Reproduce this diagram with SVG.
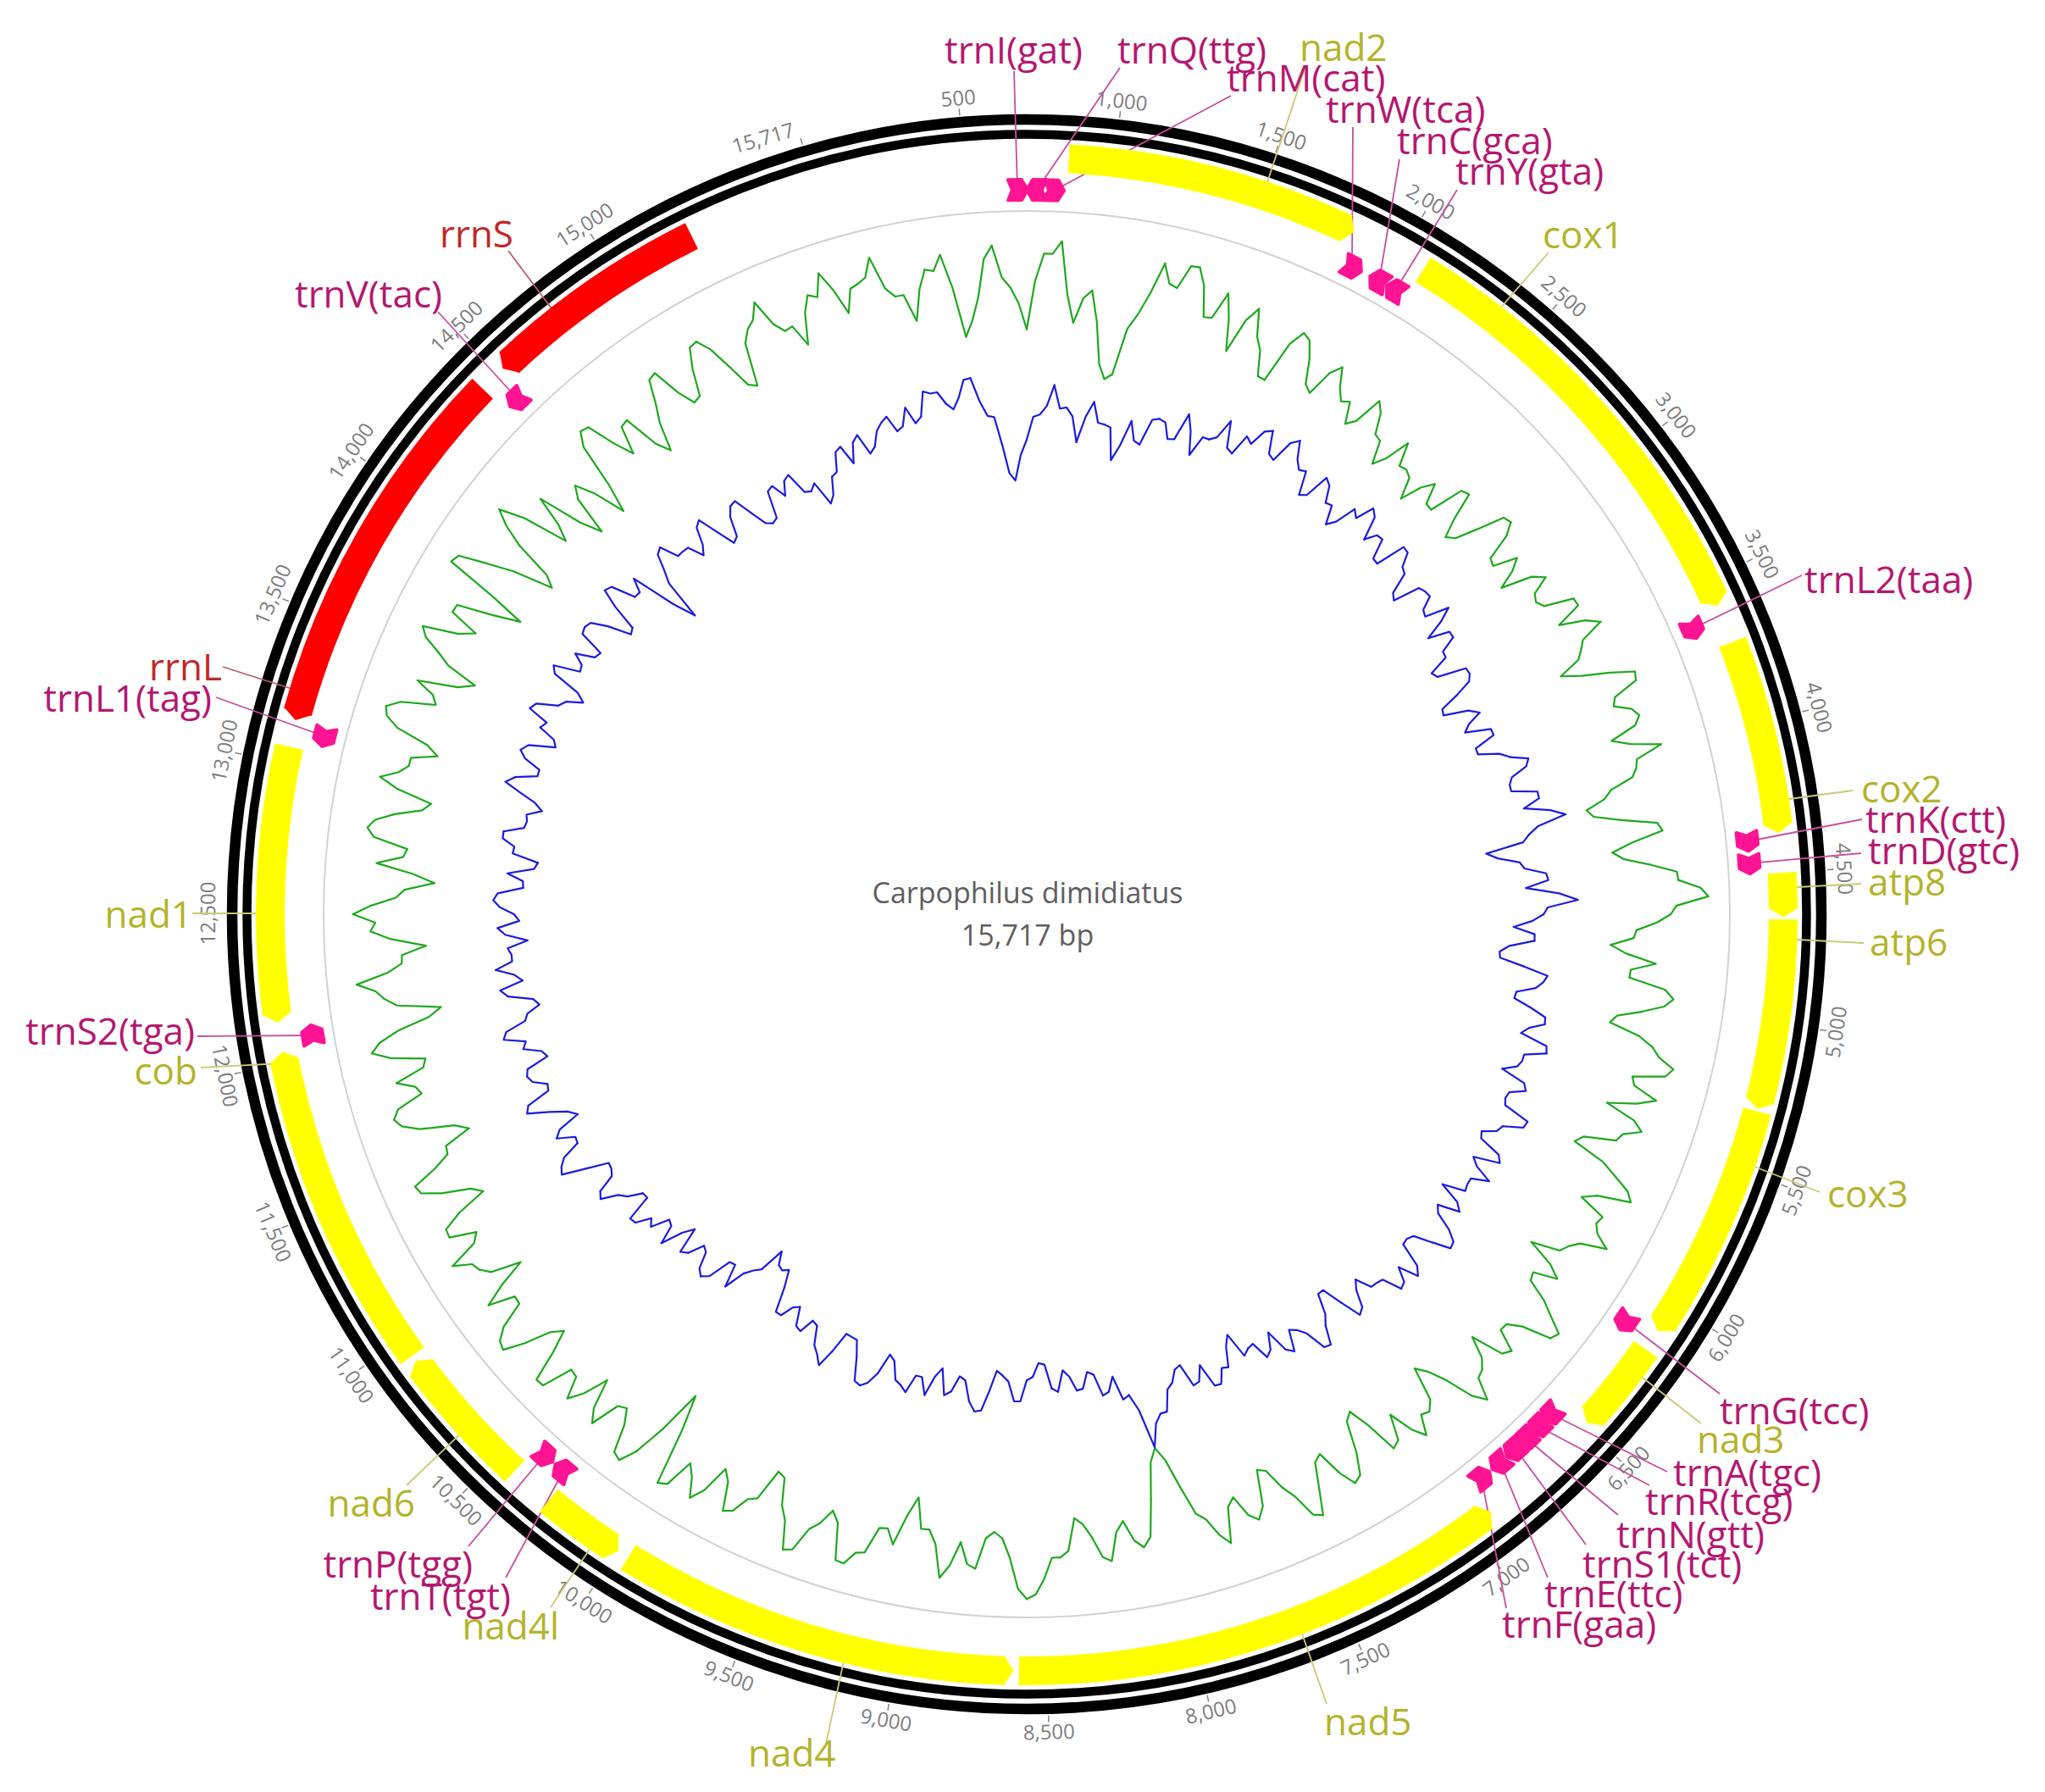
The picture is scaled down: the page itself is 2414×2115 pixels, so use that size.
<svg xmlns="http://www.w3.org/2000/svg" width="2414" height="2115" viewBox="0 0 2414 2115">
<style>
text{font-family:"Open Sans","Noto Sans","DejaVu Sans",sans-serif}
.lab{font-size:44px}
.t{fill:#b5176f}
.g{fill:#b3b32c}
.r{fill:#c0282a}
.e{text-anchor:end}
.tk text{font-size:24px;fill:#7d7d7d;text-anchor:middle}
.tk line{stroke:#8a8a8a;stroke-width:1.6}
.lt{stroke:#c8509a;stroke-width:1.8}
.lg{stroke:#c9c97a;stroke-width:1.8}
.lr{stroke:#b86070;stroke-width:1.8}
.arc{fill:none;stroke-width:34}
.yel{stroke:#ffff00}
.yf{fill:#ffff00}
.red{stroke:#ff0000}
.rf{fill:#ff0000}
.trna{fill:#ff1493;stroke:#ff1493;stroke-width:4;stroke-linejoin:round}
.gc path{fill:none;stroke:#1fa81f;stroke-width:2.2;stroke-linejoin:round;stroke-linecap:round}
.sk path{fill:none;stroke:#1c1ce0;stroke-width:2.2;stroke-linejoin:round;stroke-linecap:round}
</style>
<defs>
<polygon id="tf" points="-11,-867 5,-867 12,-855 5,-843 -11,-843 -6,-855"/>
<polygon id="tr" points="11,-867 -5,-867 -12,-855 -5,-843 11,-843 6,-855"/>
<polygon id="hf" points="-1,-910 10,-893 -1,-876"/>
<polygon id="hr" points="1,-910 -10,-893 1,-876"/>
</defs>
<rect width="2414" height="2115" fill="#fff"/>
<g id="rings" fill="none">
<circle cx="1212" cy="1079" r="938" stroke="#000" stroke-width="12.5"/>
<circle cx="1212" cy="1079" r="920.5" stroke="#000" stroke-width="10.5"/>
<circle cx="1212" cy="1079" r="830" stroke="#d2d2d2" stroke-width="2"/>
</g>
<g id="ticks" class="tk" transform="translate(1212 1079)">
<g transform="rotate(-16.25)"><line y1="-946" y2="-954"/><text x="-5" y="-966" dy="8" style="text-anchor:end">15,717</text></g>
<g transform="rotate(-4.8)"><line y1="-946" y2="-954"/><text y="-966" dy="8">500</text></g>
<g transform="rotate(6.655)"><line y1="-946" y2="-954"/><text y="-966" dy="8">1,000</text></g>
<g transform="rotate(18.11)"><line y1="-946" y2="-954"/><text y="-966" dy="8">1,500</text></g>
<g transform="rotate(29.56)"><line y1="-946" y2="-954"/><text y="-966" dy="8">2,000</text></g>
<g transform="rotate(41.01)"><line y1="-946" y2="-954"/><text y="-966" dy="8">2,500</text></g>
<g transform="rotate(52.47)"><line y1="-946" y2="-954"/><text y="-966" dy="8">3,000</text></g>
<g transform="rotate(63.92)"><line y1="-946" y2="-954"/><text y="-966" dy="8">3,500</text></g>
<g transform="rotate(75.37)"><line y1="-946" y2="-954"/><text y="-966" dy="8">4,000</text></g>
<g transform="rotate(86.82)"><line y1="-946" y2="-954"/><text y="-966" dy="8">4,500</text></g>
<g transform="rotate(98.28)"><line y1="-946" y2="-954"/><text y="-966" dy="8" transform="rotate(180 0 -966)">5,000</text></g>
<g transform="rotate(109.73)"><line y1="-946" y2="-954"/><text y="-966" dy="8" transform="rotate(180 0 -966)">5,500</text></g>
<g transform="rotate(121.18)"><line y1="-946" y2="-954"/><text y="-966" dy="8" transform="rotate(180 0 -966)">6,000</text></g>
<g transform="rotate(132.63)"><line y1="-946" y2="-954"/><text y="-966" dy="8" transform="rotate(180 0 -966)">6,500</text></g>
<g transform="rotate(144.09)"><line y1="-946" y2="-954"/><text y="-966" dy="8" transform="rotate(180 0 -966)">7,000</text></g>
<g transform="rotate(155.54)"><line y1="-946" y2="-954"/><text y="-966" dy="8" transform="rotate(180 0 -966)">7,500</text></g>
<g transform="rotate(166.99)"><line y1="-946" y2="-954"/><text y="-966" dy="8" transform="rotate(180 0 -966)">8,000</text></g>
<g transform="rotate(178.44)"><line y1="-946" y2="-954"/><text y="-966" dy="8" transform="rotate(180 0 -966)">8,500</text></g>
<g transform="rotate(189.9)"><line y1="-946" y2="-954"/><text y="-966" dy="8" transform="rotate(180 0 -966)">9,000</text></g>
<g transform="rotate(201.35)"><line y1="-946" y2="-954"/><text y="-966" dy="8" transform="rotate(180 0 -966)">9,500</text></g>
<g transform="rotate(212.8)"><line y1="-946" y2="-954"/><text y="-966" dy="8" transform="rotate(180 0 -966)">10,000</text></g>
<g transform="rotate(224.25)"><line y1="-946" y2="-954"/><text y="-966" dy="8" transform="rotate(180 0 -966)">10,500</text></g>
<g transform="rotate(235.71)"><line y1="-946" y2="-954"/><text y="-966" dy="8" transform="rotate(180 0 -966)">11,000</text></g>
<g transform="rotate(247.16)"><line y1="-946" y2="-954"/><text y="-966" dy="8" transform="rotate(180 0 -966)">11,500</text></g>
<g transform="rotate(258.61)"><line y1="-946" y2="-954"/><text y="-966" dy="8" transform="rotate(180 0 -966)">12,000</text></g>
<g transform="rotate(270.06)"><line y1="-946" y2="-954"/><text y="-966" dy="8">12,500</text></g>
<g transform="rotate(281.52)"><line y1="-946" y2="-954"/><text y="-966" dy="8">13,000</text></g>
<g transform="rotate(292.97)"><line y1="-946" y2="-954"/><text y="-966" dy="8">13,500</text></g>
<g transform="rotate(304.42)"><line y1="-946" y2="-954"/><text y="-966" dy="8">14,000</text></g>
<g transform="rotate(315.87)"><line y1="-946" y2="-954"/><text y="-966" dy="8">14,500</text></g>
<g transform="rotate(327.33)"><line y1="-946" y2="-954"/><text y="-966" dy="8">15,000</text></g>
</g>
<g id="gc-content" class="gc" transform="translate(1212 1079)">
<path transform="rotate(1.5)" d="M-18.1-690L-9.8-747 0-780 10.2-780 20.8-795"/>
<path transform="rotate(4.5)" d="M-20.8-795L-9.6-733 0-700 9.6-730 19.4-740"/>
<path transform="rotate(7.5)" d="M-19.4-740L-9.2-704 0-655 8.4-638 16.9-645"/>
<path transform="rotate(10.5)" d="M-16.9-645L-9.2-701 0-720 9.8-747 20.6-785"/>
<path transform="rotate(13.5)" d="M-20.6-785L-10-763 0-760 10.3-789 20.7-790"/>
<path transform="rotate(16.5)" d="M-20.7-790L-10.1-771 0-735 9.6-737 20.2-770"/>
<path transform="rotate(19.5)" d="M-20.2-770L-9.7-742 0-705 9.8-747 20-765"/>
<path transform="rotate(22.5)" d="M-20-765L-9.6-734 0-720 9-691 18.1-690"/>
<path transform="rotate(25.5)" d="M-18.1-690L-9.7-741 0-760 9.9-755 19.2-735"/>
<path transform="rotate(28.5)" d="M-19.2-735L-9.3-707 0-700 9.6-732 19.5-745"/>
<path transform="rotate(31.5)" d="M-19.5-745L-9.5-723 0-710 9.4-715 18.1-690"/>
<path transform="rotate(34.5)" d="M-18.1-690L-9.2-700 0-735 9.5-724 18.3-700"/>
<path transform="rotate(37.5)" d="M-18.3-700L-9.1-697 0-670 9-685 18.7-715"/>
<path transform="rotate(40.5)" d="M-18.7-715L-9-688 0-690 9-685 17.3-660"/>
<path transform="rotate(43.5)" d="M-17.3-660L-9-686 0-700 8.8-676 17.7-675"/>
<path transform="rotate(46.5)" d="M-17.7-675L-9.4-716 0-720 9-687 17.4-665"/>
<path transform="rotate(49.5)" d="M-17.4-665L-8.8-673 0-700 9.6-732 19.2-735"/>
<path transform="rotate(52.5)" d="M-19.2-735L-9.4-721 0-690 9-687 18.7-715"/>
<path transform="rotate(55.5)" d="M-18.7-715L-9.2-702 0-680 9.4-717 19.1-730"/>
<path transform="rotate(58.5)" d="M-19.1-730L-9.3-709 0-705 9.3-711 19.5-745"/>
<path transform="rotate(61.5)" d="M-19.5-745L-9.8-746 0-715 9.8-745 19.9-760"/>
<path transform="rotate(64.5)" d="M-19.9-760L-9.6-732 0-725 9.4-717 18.1-690"/>
<path transform="rotate(67.5)" d="M-18.1-690L-9.3-713 0-745 10.1-773 20.2-770"/>
<path transform="rotate(70.5)" d="M-20.2-770L-9.7-740 0-735 9.9-754 19.9-760"/>
<path transform="rotate(73.5)" d="M-19.9-760L-9.8-752 0-720 9.7-740 20.3-775"/>
<path transform="rotate(76.5)" d="M-20.3-775L-9.7-743 0-740 9.6-733 18.5-705"/>
<path transform="rotate(79.5)" d="M-18.5-705L-9.1-695 0-672 8.9-679 18.6-710"/>
<path transform="rotate(82.5)" d="M-18.6-710L-9.8-752 0-757 9.4-720 18.2-695"/>
<path transform="rotate(85.5)" d="M-18.2-695L-9.3-708 0-740 10.1-769 20.2-770"/>
<path transform="rotate(88.5)" d="M-20.2-770L-10.4-796 0-805 10-767 19.9-760"/>
<path transform="rotate(91.5)" d="M-19.9-760L-9.7-744 0-720 9.4-717 18.1-690"/>
<path transform="rotate(94.5)" d="M-18.1-690L-9.3-709 0-745 9.4-716 18.7-715"/>
<path transform="rotate(97.5)" d="M-18.7-715L-9.9-759 0-770 9.9-760 19.2-735"/>
<path transform="rotate(100.5)" d="M-19.2-735L-9.3-707 0-700 9.6-737 19.8-755"/>
<path transform="rotate(103.5)" d="M-19.8-755L-10-765 0-785 10.2-778 19.4-740"/>
<path transform="rotate(106.5)" d="M-19.4-740L-9.8-745 0-775 9.9-754 18.8-720"/>
<path transform="rotate(109.5)" d="M-18.8-720L-9.9-757 0-770 9.8-750 19.5-745"/>
<path transform="rotate(112.5)" d="M-19.5-745L-9.3-708 0-700 9.7-740 19.9-760"/>
<path transform="rotate(115.5)" d="M-19.9-760L-10.2-781 0-790 9.8-751 19.2-735"/>
<path transform="rotate(118.5)" d="M-19.2-735L-10.1-768 0-765 10.1-772 20.7-790"/>
<path transform="rotate(121.5)" d="M-20.7-790L-9.9-760 0-750 9.7-744 18.6-710"/>
<path transform="rotate(124.5)" d="M-18.6-710L-9.7-743 0-760 9.6-732 19.2-735"/>
<path transform="rotate(127.5)" d="M-19.2-735L-10-762 0-780 10.5-800 20.8-795"/>
<path transform="rotate(130.5)" d="M-20.8-795L-10-761 0-745 9.7-744 20.2-770"/>
<path transform="rotate(133.5)" d="M-20.2-770L-10-764 0-725 9.8-750 19.9-760"/>
<path transform="rotate(136.5)" d="M-19.9-760L-10-764 0-790 10.1-774 19.4-740"/>
<path transform="rotate(139.5)" d="M-19.4-740L-9.4-718 0-705 9.8-745 19.8-755"/>
<path transform="rotate(142.5)" d="M-19.8-755L-9.8-752 0-775 9.9-759 19.1-730"/>
<path transform="rotate(145.5)" d="M-19.1-730L-9.9-760 0-765 9.5-725 18.3-700"/>
<path transform="rotate(148.5)" d="M-18.3-700L-9.3-708 0-745 10.1-770 20.3-775"/>
<path transform="rotate(151.5)" d="M-20.3-775L-9.9-756 0-725 9.6-731 19.9-760"/>
<path transform="rotate(154.5)" d="M-19.9-760L-10.4-791 0-785 9.9-757 19.4-740"/>
<path transform="rotate(157.5)" d="M-19.4-740L-9.4-715 0-710 9.8-752 20-765"/>
<path transform="rotate(160.5)" d="M-20-765L-9.9-756 0-730 9.7-739 20.4-780"/>
<path transform="rotate(163.5)" d="M-20.4-780L-10-767 0-745 9.6-735 18.3-700"/>
<path transform="rotate(166.5)" d="M-18.3-700L-8.7-665 0-648 8.7-663 18.5-705"/>
<path transform="rotate(169.5)" d="M-18.5-705L-9.8-749 0-760 9.8-750 19-725"/>
<path transform="rotate(172.5)" d="M-19-725L-9.6-737 0-770 10-764 19.4-740"/>
<path transform="rotate(175.5)" d="M-19.4-740L-9.5-723 0-715 9.9-753 19.9-760"/>
<path transform="rotate(178.5)" d="M-19.9-760L-9.9-760 0-785 10.5-803 21.2-808"/>
<path transform="rotate(181.5)" d="M-21.2-808L-10.4-796 0-760 9.6-737 19.1-730"/>
<path transform="rotate(184.5)" d="M-19.1-730L-9.7-738 0-775 10.1-770 19.5-745"/>
<path transform="rotate(187.5)" d="M-19.5-745L-10.1-774 0-790 9.8-751 19.2-735"/>
<path transform="rotate(190.5)" d="M-19.2-735L-9.6-736 0-700 9.5-724 19.9-760"/>
<path transform="rotate(193.5)" d="M-19.9-760L-9.7-743 0-745 10.2-777 20.4-780"/>
<path transform="rotate(196.5)" d="M-20.4-780L-10.4-796 0-795 9.8-752 19.4-740"/>
<path transform="rotate(199.5)" d="M-19.4-740L-9.9-759 0-770 10.5-799 21-803"/>
<path transform="rotate(202.5)" d="M-21-803L-10.1-770 0-755 9.5-724 18.8-720"/>
<path transform="rotate(205.5)" d="M-18.8-720L-9.9-759 0-765 10.3-785 20.7-790"/>
<path transform="rotate(208.5)" d="M-20.7-790L-9.9-757 0-745 10.2-779 20.8-795"/>
<path transform="rotate(211.5)" d="M-20.8-795L-10.1-773 0-760 10.4-795 20.9-800"/>
<path transform="rotate(214.5)" d="M-20.9-800L-9.6-732 0-690 9.7-743 20.5-783"/>
<path transform="rotate(217.5)" d="M-20.5-783L-10.5-804 0-800 10-767 19.6-750"/>
<path transform="rotate(220.5)" d="M-19.6-750L-9.9-755 0-790 10.1-775 19.4-740"/>
<path transform="rotate(223.5)" d="M-19.4-740L-10.1-770 0-788 10-762 19.9-760"/>
<path transform="rotate(226.5)" d="M-19.9-760L-10.4-797 0-798 10-761 19.2-735"/>
<path transform="rotate(229.5)" d="M-19.2-735L-9.8-748 0-780 10.5-804 20.9-800"/>
<path transform="rotate(232.5)" d="M-20.9-800L-10.3-786 0-755 9.9-754 20.6-785"/>
<path transform="rotate(235.5)" d="M-20.6-785L-9.9-759 0-725 9.9-760 20.2-770"/>
<path transform="rotate(238.5)" d="M-20.2-770L-10.1-774 0-795 9.9-759 19.6-750"/>
<path transform="rotate(241.5)" d="M-19.6-750L-10.2-781 0-780 9.9-757 18.8-720"/>
<path transform="rotate(244.5)" d="M-18.8-720L-9.6-732 0-765 10.3-787 20.7-790"/>
<path transform="rotate(247.5)" d="M-20.7-790L-9.9-760 0-740 9.7-738 18.5-705"/>
<path transform="rotate(250.5)" d="M-18.5-705L-9.4-720 0-760 10.2-779 20.6-785"/>
<path transform="rotate(253.5)" d="M-20.6-785L-10.2-777 0-745 9.8-750 20.2-770"/>
<path transform="rotate(256.5)" d="M-20.2-770L-9.6-735 0-730 10.1-770 20.7-790"/>
<path transform="rotate(259.5)" d="M-20.7-790L-10.2-779 0-755 9.4-716 18.3-700"/>
<path transform="rotate(262.5)" d="M-18.3-700L-9.8-751 0-765 10.1-774 20.8-795"/>
<path transform="rotate(265.5)" d="M-20.8-795L-9.9-758 0-740 9.7-739 18.6-710"/>
<path transform="rotate(268.5)" d="M-18.6-710L-9.8-751 0-775 10.1-769 20.8-795"/>
<path transform="rotate(271.5)" d="M-20.8-795L-10.1-774 0-745 9.6-735 18.3-700"/>
<path transform="rotate(274.5)" d="M-18.3-700L-9.5-726 0-770 9.7-739 19.2-735"/>
<path transform="rotate(277.5)" d="M-19.2-735L-10.2-776 0-785 10.2-777 19.8-755"/>
<path transform="rotate(280.5)" d="M-19.8-755L-9.5-724 0-715 9.9-757 20.4-780"/>
<path transform="rotate(283.5)" d="M-20.4-780L-9.9-760 0-750 9.8-750 18.8-720"/>
<path transform="rotate(286.5)" d="M-18.8-720L-9.6-735 0-775 10.4-791 20.8-795"/>
<path transform="rotate(289.5)" d="M-20.8-795L-10.2-780 0-740 9.8-747 20.2-770"/>
<path transform="rotate(292.5)" d="M-20.2-770L-9.5-723 0-705 9.7-743 19.9-760"/>
<path transform="rotate(295.5)" d="M-19.9-760L-10.2-781 0-790 9.8-748 19.1-730"/>
<path transform="rotate(298.5)" d="M-19.1-730L-10-766 0-765 9.5-722 18.1-690"/>
<path transform="rotate(301.5)" d="M-18.1-690L-9.6-734 0-797 10.4-793 19.9-760"/>
<path transform="rotate(304.5)" d="M-19.9-760L-9.5-728 0-680 9.1-694 19.4-740"/>
<path transform="rotate(307.5)" d="M-19.4-740L-10-767 0-785 9.9-755 18.3-700"/>
<path transform="rotate(310.5)" d="M-18.3-700L-9.4-719 0-755 9.2-701 17.7-675"/>
<path transform="rotate(313.5)" d="M-17.7-675L-9.4-721 0-735 9.3-711 17.6-673"/>
<path transform="rotate(316.5)" d="M-17.6-673L-9.2-706 0-760 10.2-776 20.2-773"/>
<path transform="rotate(319.5)" d="M-20.2-773L-9.7-739 0-715 9.8-748 19.6-750"/>
<path transform="rotate(322.5)" d="M-19.6-750L-9.3-707 0-690 9.5-724 19.5-745"/>
<path transform="rotate(325.5)" d="M-19.5-745L-10.1-772 0-775 9.7-740 18.8-720"/>
<path transform="rotate(328.5)" d="M-18.8-720L-9.5-723 0-755 10.2-778 20.4-780"/>
<path transform="rotate(331.5)" d="M-20.4-780L-10-764 0-735 9.2-706 18.3-700"/>
<path transform="rotate(334.5)" d="M-18.3-700L-9.8-751 0-765 10.1-772 20.7-790"/>
<path transform="rotate(337.5)" d="M-20.7-790L-9.9-758 0-745 9.8-747 18.8-720"/>
<path transform="rotate(340.5)" d="M-18.8-720L-9.9-756 0-775 10.1-769 20.8-795"/>
<path transform="rotate(343.5)" d="M-20.8-795L-10.1-772 0-740 10-767 20.2-770"/>
<path transform="rotate(346.5)" d="M-20.2-770L-10.1-775 0-797 9.9-757 19.5-745"/>
<path transform="rotate(349.5)" d="M-19.5-745L-9.8-745 0-712 9.8-748 20.2-770"/>
<path transform="rotate(352.5)" d="M-20.2-770L-10-767 0-785 9.7-744 17.9-685"/>
<path transform="rotate(355.5)" d="M-17.9-685L-9.2-703 0-730 10.1-775 20.7-790"/>
<path transform="rotate(358.5)" d="M-20.7-790L-9.8-752 0-740 9.4-721 18.1-690"/>
</g>
<g id="gc-skew" class="sk" transform="translate(1212 1079)">
<path transform="rotate(1.5)" d="M-14.7-560L-7.7-587 0-590 7.9-600 16.4-625"/>
<path transform="rotate(4.5)" d="M-16.4-625L-7.8-598 0-600 7.7-590 14.7-560"/>
<path transform="rotate(7.5)" d="M-14.7-560L-7.7-591 0-610 7.7-586 15.3-585"/>
<path transform="rotate(10.5)" d="M-15.3-585L-7.6-583 0-545 7.4-564 15.6-595"/>
<path transform="rotate(13.5)" d="M-15.6-595L-7.5-573 0-570 7.9-602 15.8-605"/>
<path transform="rotate(16.5)" d="M-15.8-605L-7.9-603 0-585 7.7-587 16.2-620"/>
<path transform="rotate(19.5)" d="M-16.2-620L-7.9-602 0-575 7.9-600 15.7-600"/>
<path transform="rotate(22.5)" d="M-15.7-600L-7.9-606 0-630 7.8-599 15.6-595"/>
<path transform="rotate(25.5)" d="M-15.6-595L-8.1-621 0-615 8.3-635 16.8-640"/>
<path transform="rotate(28.5)" d="M-16.8-640L-8-614 0-610 8.3-637 16.9-645"/>
<path transform="rotate(31.5)" d="M-16.9-645L-8.2-625 0-615 8.1-618 15.4-590"/>
<path transform="rotate(34.5)" d="M-15.4-590L-7.8-595 0-625 8.1-619 15.7-600"/>
<path transform="rotate(37.5)" d="M-15.7-600L-7.9-602 0-580 7.7-590 16.1-615"/>
<path transform="rotate(40.5)" d="M-16.1-615L-8-608 0-630 8.2-623 15.6-595"/>
<path transform="rotate(43.5)" d="M-15.6-595L-8-609 0-610 7.7-586 15.3-585"/>
<path transform="rotate(46.5)" d="M-15.3-585L-8.1-621 0-620 7.9-604 15.7-600"/>
<path transform="rotate(49.5)" d="M-15.7-600L-7.5-575 0-570 7.9-602 15.8-605"/>
<path transform="rotate(52.5)" d="M-15.8-605L-7.9-606 0-590 7.7-587 16.1-615"/>
<path transform="rotate(55.5)" d="M-16.1-615L-7.8-599 0-575 7.9-600 15.7-600"/>
<path transform="rotate(58.5)" d="M-15.7-600L-7.6-581 0-580 7.3-556 14.7-560"/>
<path transform="rotate(61.5)" d="M-14.7-560L-7.8-594 0-595 7.7-590 14.9-570"/>
<path transform="rotate(64.5)" d="M-14.9-570L-7.2-547 0-545 7.5-574 15.3-585"/>
<path transform="rotate(67.5)" d="M-15.3-585L-7.4-568 0-560 7.7-590 15.4-590"/>
<path transform="rotate(70.5)" d="M-15.4-590L-7.4-565 0-565 7.7-589 15.7-600"/>
<path transform="rotate(73.5)" d="M-15.7-600L-8.1-620 0-615 7.8-595 15.4-590"/>
<path transform="rotate(76.5)" d="M-15.4-590L-7.7-590 0-620 8.1-620 15.7-600"/>
<path transform="rotate(79.5)" d="M-15.7-600L-8.2-630 0-647 8-612 15.7-600"/>
<path transform="rotate(82.5)" d="M-15.7-600L-7.7-592 0-547 7.3-560 15.3-585"/>
<path transform="rotate(85.5)" d="M-15.3-585L-7.7-590 0-615 8.1-617 15.4-590"/>
<path transform="rotate(88.5)" d="M-15.4-590L-8.2-629 0-651 8.1-615 16-610"/>
<path transform="rotate(91.5)" d="M-16-610L-7.8-597 0-575 7.9-600 15.7-600"/>
<path transform="rotate(94.5)" d="M-15.7-600L-7.5-571 0-560 7.3-561 15.4-590"/>
<path transform="rotate(97.5)" d="M-15.4-590L-8.1-619 0-615 7.9-607 15.3-585"/>
<path transform="rotate(100.5)" d="M-15.3-585L-7.6-584 0-605 8.2-624 16.4-625"/>
<path transform="rotate(103.5)" d="M-16.4-625L-8-608 0-600 8.3-633 16.6-635"/>
<path transform="rotate(106.5)" d="M-16.6-635L-8-610 0-610 7.9-606 15.4-590"/>
<path transform="rotate(109.5)" d="M-15.4-590L-8.1-620 0-625 7.9-607 15.8-605"/>
<path transform="rotate(112.5)" d="M-15.8-605L-8-608 0-640 8.4-638 16.1-615"/>
<path transform="rotate(115.5)" d="M-16.1-615L-8-611 0-595 7.8-598 16.4-625"/>
<path transform="rotate(118.5)" d="M-16.4-625L-8.3-631 0-600 8-609 16.5-630"/>
<path transform="rotate(121.5)" d="M-16.5-630L-8-610 0-610 8-612 15.3-585"/>
<path transform="rotate(124.5)" d="M-15.3-585L-8-611 0-620 7.8-594 15.7-600"/>
<path transform="rotate(127.5)" d="M-15.7-600L-8.1-622 0-635 8.3-637 16.1-615"/>
<path transform="rotate(130.5)" d="M-16.1-615L-7.8-594 0-590 7.7-591 16.2-620"/>
<path transform="rotate(133.5)" d="M-16.2-620L-8.2-629 0-605 8.1-622 16.4-625"/>
<path transform="rotate(136.5)" d="M-16.4-625L-7.9-602 0-600 7.8-599 15.2-580"/>
<path transform="rotate(139.5)" d="M-15.2-580L-7.7-590 0-610 8.1-615 15.4-590"/>
<path transform="rotate(142.5)" d="M-15.4-590L-7.4-565 0-565 7.7-589 15.7-600"/>
<path transform="rotate(145.5)" d="M-15.7-600L-8.1-622 0-620 7.8-595 15.3-585"/>
<path transform="rotate(148.5)" d="M-15.3-585L-7.6-580 0-605 7.8-598 14.9-570"/>
<path transform="rotate(151.5)" d="M-14.9-570L-7.7-589 0-595 7.5-573 15.1-575"/>
<path transform="rotate(154.5)" d="M-15.1-575L-7.6-581 0-550 7.4-562 15.3-585"/>
<path transform="rotate(157.5)" d="M-15.3-585L-7.6-583 0-600 7.8-599 14.9-570"/>
<path transform="rotate(160.5)" d="M-14.9-570L-7.7-588 0-590 7.4-562 14.8-565"/>
<path transform="rotate(163.5)" d="M-14.8-565L-7.6-579 0-585 8-610 16-610"/>
<path transform="rotate(166.5)" d="M-16-610L-8.1-620 0-647 7.9-600 15.2-580"/>
<path transform="rotate(169.5)" d="M-15.2-580L-7.6-584 0-555 7.5-572 15.1-575"/>
<path transform="rotate(172.5)" d="M-15.1-575L-7.2-549 0-545 7.4-564 14.8-565"/>
<path transform="rotate(175.5)" d="M-14.8-565L-7.2-548 0-540 7.4-565 14.7-560"/>
<path transform="rotate(178.5)" d="M-14.7-560L-7-532 0-530 7.1-546 14.4-550"/>
<path transform="rotate(181.5)" d="M-14.4-550L-7.5-575 0-575 7.2-552 14.3-545"/>
<path transform="rotate(184.5)" d="M-14.3-545L-7.1-540 0-565 7.7-588 15.4-590"/>
<path transform="rotate(187.5)" d="M-15.4-590L-7.6-579 0-555 7.2-551 14.9-570"/>
<path transform="rotate(190.5)" d="M-14.9-570L-7.5-576 0-545 7.3-557 15.2-580"/>
<path transform="rotate(193.5)" d="M-15.2-580L-7.3-560 0-560 7.6-582 15.1-575"/>
<path transform="rotate(196.5)" d="M-15.1-575L-7.5-571 0-550 7.1-544 14.9-570"/>
<path transform="rotate(199.5)" d="M-14.9-570L-7.6-584 0-590 7.7-587 14.7-560"/>
<path transform="rotate(202.5)" d="M-14.7-560L-7.1-541 0-540 7.1-539 14.8-565"/>
<path transform="rotate(205.5)" d="M-14.8-565L-7.7-586 0-575 7.4-567 14.3-545"/>
<path transform="rotate(208.5)" d="M-14.3-545L-7.1-542 0-560 7.3-557 14-535"/>
<path transform="rotate(211.5)" d="M-14-535L-7.1-540 0-555 7.3-555 13.7-525"/>
<path transform="rotate(214.5)" d="M-13.7-525L-6.6-505 0-510 6.6-507 12.9-492"/>
<path transform="rotate(217.5)" d="M-12.9-492L-6.8-523 0-530 7.1-540 14.8-565"/>
<path transform="rotate(220.5)" d="M-14.8-565L-7-538 0-540 7.4-568 15.1-575"/>
<path transform="rotate(223.5)" d="M-15.1-575L-7.4-569 0-550 7.1-546 14.8-565"/>
<path transform="rotate(226.5)" d="M-14.8-565L-7.5-571 0-540 7.3-554 15.2-580"/>
<path transform="rotate(229.5)" d="M-15.2-580L-7.3-558 0-555 7.6-577 14.9-570"/>
<path transform="rotate(232.5)" d="M-14.9-570L-7.7-588 0-590 7.3-559 14.7-560"/>
<path transform="rotate(235.5)" d="M-14.7-560L-7.6-577 0-585 7.9-605 15.7-600"/>
<path transform="rotate(238.5)" d="M-15.7-600L-7.6-579 0-575 7.5-574 15.7-600"/>
<path transform="rotate(241.5)" d="M-15.7-600L-8.2-629 0-625 8.1-617 15.6-595"/>
<path transform="rotate(244.5)" d="M-15.6-595L-7.8-594 0-615 7.9-607 15.2-580"/>
<path transform="rotate(247.5)" d="M-15.2-580L-7.7-590 0-610 8.3-635 16.5-630"/>
<path transform="rotate(250.5)" d="M-16.5-630L-7.9-602 0-600 8.1-616 16.2-620"/>
<path transform="rotate(253.5)" d="M-16.2-620L-8.1-617 0-590 7.8-595 16.1-615"/>
<path transform="rotate(256.5)" d="M-16.1-615L-8-610 0-635 8.2-630 15.8-605"/>
<path transform="rotate(259.5)" d="M-15.8-605L-7.9-601 0-585 7.7-591 16.2-620"/>
<path transform="rotate(262.5)" d="M-16.2-620L-8.2-628 0-600 8-609 16.5-630"/>
<path transform="rotate(265.5)" d="M-16.5-630L-8-610 0-610 8-614 15.4-590"/>
<path transform="rotate(268.5)" d="M-15.4-590L-8.1-616 0-625 7.8-599 15.8-605"/>
<path transform="rotate(271.5)" d="M-15.8-605L-8.1-622 0-630 8.2-625 15.6-595"/>
<path transform="rotate(274.5)" d="M-15.6-595L-7.8-596 0-615 7.6-584 15.2-580"/>
<path transform="rotate(277.5)" d="M-15.2-580L-8-611 0-610 8.2-625 16.4-625"/>
<path transform="rotate(280.5)" d="M-16.4-625L-7.9-602 0-600 7.9-602 15.3-585"/>
<path transform="rotate(283.5)" d="M-15.3-585L-7.8-595 0-615 8.3-635 16.4-625"/>
<path transform="rotate(286.5)" d="M-16.4-625L-7.9-600 0-600 8.1-620 16.4-628"/>
<path transform="rotate(289.5)" d="M-16.4-628L-8.1-621 0-590 7.8-595 16.1-615"/>
<path transform="rotate(292.5)" d="M-16.1-615L-8-610 0-635 8.2-630 15.8-605"/>
<path transform="rotate(295.5)" d="M-15.8-605L-7.8-599 0-580 7.7-591 16.4-625"/>
<path transform="rotate(298.5)" d="M-16.4-625L-8.3-631 0-600 7.9-602 16.1-615"/>
<path transform="rotate(301.5)" d="M-16.1-615L-7.8-593 0-590 8.1-620 16.3-622"/>
<path transform="rotate(304.5)" d="M-16.3-622L-8.1-619 0-600 7.5-572 15.1-575"/>
<path transform="rotate(307.5)" d="M-15.1-575L-7.9-606 0-628 8.2-624 15.6-595"/>
<path transform="rotate(310.5)" d="M-15.6-595L-7.8-594 0-610 7.3-555 13.8-527"/>
<path transform="rotate(313.5)" d="M-13.8-527L-7.5-575 0-590 8-608 16-612"/>
<path transform="rotate(316.5)" d="M-16-612L-7.7-590 0-590 7.7-589 14.9-570"/>
<path transform="rotate(319.5)" d="M-14.9-570L-7.6-580 0-600 7.9-605 15.2-580"/>
<path transform="rotate(322.5)" d="M-15.2-580L-7.3-558 0-562 7.7-585 15.6-595"/>
<path transform="rotate(325.5)" d="M-15.6-595L-7.8-597 0-575 7.3-555 14.4-550"/>
<path transform="rotate(328.5)" d="M-14.4-550L-7.2-553 0-585 7.7-588 14.9-570"/>
<path transform="rotate(331.5)" d="M-14.9-570L-7.7-586 0-590 7.4-563 14.7-560"/>
<path transform="rotate(334.5)" d="M-14.7-560L-7.4-567 0-537 7.1-545 14.8-565"/>
<path transform="rotate(337.5)" d="M-14.8-565L-7.4-568 0-590 7.8-594 14.9-570"/>
<path transform="rotate(340.5)" d="M-14.9-570L-7.8-593 0-600 7.5-574 15.2-580"/>
<path transform="rotate(343.5)" d="M-15.2-580L-7.8-597 0-605 8-610 15.4-590"/>
<path transform="rotate(346.5)" d="M-15.4-590L-7.8-594 0-615 7.8-594 15.7-600"/>
<path transform="rotate(349.5)" d="M-15.7-600L-8.2-629 0-625 8.2-625 16-610"/>
<path transform="rotate(352.5)" d="M-16-610L-7.9-602 0-615 8.3-635 16.7-636"/>
<path transform="rotate(355.5)" d="M-16.7-636L-8-608 0-590 7.7-588 14.5-555"/>
<path transform="rotate(358.5)" d="M-14.5-555L-6.8-521 0-512 7.1-542 14.7-560"/>
</g>
<g id="connectors" fill="none">
<line class="lt" x1="1201" y1="224" x2="1197" y2="84"/>
<line class="lt" x1="1224" y1="224" x2="1322" y2="80"/>
<line class="lt" x1="1244" y1="225" x2="1453" y2="113"/>
<line class="lt" x1="1596" y1="315" x2="1597" y2="150"/>
<line class="lt" x1="1628" y1="332" x2="1652" y2="188"/>
<line class="lt" x1="1647" y1="343" x2="1720" y2="224"/>
<line class="lt" x1="1998" y1="742" x2="2127" y2="679"/>
<line class="lt" x1="2063" y1="993" x2="2198" y2="967"/>
<line class="lt" x1="2065" y1="1019" x2="2197" y2="1007"/>
<line class="lt" x1="1919" y1="1560" x2="2030" y2="1645"/>
<line class="lt" x1="1831" y1="1669" x2="1968" y2="1737"/>
<line class="lt" x1="1817" y1="1684" x2="1947" y2="1753"/>
<line class="lt" x1="1802" y1="1698" x2="1910" y2="1788"/>
<line class="lt" x1="1789" y1="1710" x2="1872" y2="1823"/>
<line class="lt" x1="1771" y1="1726" x2="1827" y2="1862"/>
<line class="lt" x1="1749" y1="1745" x2="1778" y2="1898"/>
<line class="lt" x1="665" y1="1736" x2="597" y2="1862"/>
<line class="lt" x1="643" y1="1717" x2="553" y2="1825"/>
<line class="lt" x1="369" y1="1222" x2="233" y2="1223"/>
<line class="lt" x1="383" y1="869" x2="255" y2="823"/>
<line class="lt" x1="611" y1="471" x2="517" y2="368"/>
<line class="lg" x1="1491" y1="230" x2="1540" y2="82"/>
<line class="lg" x1="1763" y1="373" x2="1828" y2="298"/>
<line class="lg" x1="2097" y1="945" x2="2187" y2="933"/>
<line class="lg" x1="2103" y1="1048" x2="2197" y2="1043"/>
<line class="lg" x1="2103" y1="1108" x2="2200" y2="1113"/>
<line class="lg" x1="2053" y1="1370" x2="2148" y2="1407"/>
<line class="lg" x1="1925" y1="1615" x2="2008" y2="1680"/>
<line class="lg" x1="1532" y1="1914" x2="1566" y2="2011"/>
<line class="lg" x1="998" y1="1951" x2="975" y2="2058"/>
<line class="lg" x1="705" y1="1815" x2="650" y2="1897"/>
<line class="lg" x1="553" y1="1683" x2="480" y2="1753"/>
<line class="lg" x1="333" y1="1255" x2="237" y2="1260"/>
<line class="lg" x1="320" y1="1078" x2="227" y2="1078"/>
<line class="lr" x1="357" y1="817" x2="263" y2="787"/>
<line class="lr" x1="660" y1="376" x2="600" y2="296"/>
</g>
<g id="genes">
<g id="nad2"><circle class="arc yel" r="893" pathLength="360" stroke-dasharray="21.8 400" stroke-dashoffset="-3.2" transform="translate(1212 1079) rotate(-90)"/><use href="#hf" class="yf" transform="translate(1212 1079) rotate(25)"/><text class="lab g" x="1534" y="72">nad2</text></g>
<g id="cox1"><circle class="arc yel" r="893" pathLength="360" stroke-dasharray="33.7 400" stroke-dashoffset="-31.6" transform="translate(1212 1079) rotate(-90)"/><use href="#hf" class="yf" transform="translate(1212 1079) rotate(65.3)"/><text class="lab g" x="1821" y="293">cox1</text></g>
<g id="cox2"><circle class="arc yel" r="893" pathLength="360" stroke-dasharray="14.3 400" stroke-dashoffset="-68.9" transform="translate(1212 1079) rotate(-90)"/><use href="#hf" class="yf" transform="translate(1212 1079) rotate(83.2)"/><text class="lab g" x="2197" y="947">cox2</text></g>
<g id="atp8"><circle class="arc yel" r="893" pathLength="360" stroke-dasharray="2.75 400" stroke-dashoffset="-86.85" transform="translate(1212 1079) rotate(-90)"/><use href="#hf" class="yf" transform="translate(1212 1079) rotate(89.6)"/><text class="lab g" x="2205" y="1057">atp8</text></g>
<g id="atp6"><circle class="arc yel" r="893" pathLength="360" stroke-dasharray="13.9 400" stroke-dashoffset="-90.4" transform="translate(1212 1079) rotate(-90)"/><use href="#hf" class="yf" transform="translate(1212 1079) rotate(104.3)"/><text class="lab g" x="2207" y="1128">atp6</text></g>
<g id="cox3"><circle class="arc yel" r="893" pathLength="360" stroke-dasharray="17.7 400" stroke-dashoffset="-105.1" transform="translate(1212 1079) rotate(-90)"/><use href="#hf" class="yf" transform="translate(1212 1079) rotate(122.8)"/><text class="lab g" x="2157" y="1425">cox3</text></g>
<g id="nad3"><circle class="arc yel" r="893" pathLength="360" stroke-dasharray="6.5 400" stroke-dashoffset="-125.1" transform="translate(1212 1079) rotate(-90)"/><use href="#hf" class="yf" transform="translate(1212 1079) rotate(131.6)"/><text class="lab g" x="2003" y="1715">nad3</text></g>
<g id="nad5"><circle class="arc yel" r="893" pathLength="360" stroke-dasharray="37.8 400" stroke-dashoffset="-142.8" transform="translate(1212 1079) rotate(-90)"/><use href="#hr" class="yf" transform="translate(1212 1079) rotate(142.8)"/><text class="lab g" x="1563" y="2048">nad5</text></g>
<g id="nad4"><circle class="arc yel" r="893" pathLength="360" stroke-dasharray="30.16 400" stroke-dashoffset="-181.64" transform="translate(1212 1079) rotate(-90)"/><use href="#hr" class="yf" transform="translate(1212 1079) rotate(181.64)"/><text class="lab g" x="883" y="2085">nad4</text></g>
<g id="nad4l"><circle class="arc yel" r="893" pathLength="360" stroke-dasharray="5.9 400" stroke-dashoffset="-213.3" transform="translate(1212 1079) rotate(-90)"/><use href="#hr" class="yf" transform="translate(1212 1079) rotate(213.3)"/><text class="lab g e" x="660" y="1935">nad4l</text></g>
<g id="nad6"><circle class="arc yel" r="893" pathLength="360" stroke-dasharray="10.6 400" stroke-dashoffset="-222.6" transform="translate(1212 1079) rotate(-90)"/><use href="#hf" class="yf" transform="translate(1212 1079) rotate(233.2)"/><text class="lab g e" x="490" y="1790">nad6</text></g>
<g id="cob"><circle class="arc yel" r="893" pathLength="360" stroke-dasharray="24.6 400" stroke-dashoffset="-234.3" transform="translate(1212 1079) rotate(-90)"/><use href="#hf" class="yf" transform="translate(1212 1079) rotate(258.9)"/><text class="lab g e" x="233" y="1280">cob</text></g>
<g id="nad1"><circle class="arc yel" r="893" pathLength="360" stroke-dasharray="20.4 400" stroke-dashoffset="-262.4" transform="translate(1212 1079) rotate(-90)"/><use href="#hr" class="yf" transform="translate(1212 1079) rotate(262.4)"/><text class="lab g e" x="227" y="1095">nad1</text></g>
<g id="rrnL"><circle class="arc red" r="893" pathLength="360" stroke-dasharray="28.5 400" stroke-dashoffset="-285.5" transform="translate(1212 1079) rotate(-90)"/><use href="#hr" class="rf" transform="translate(1212 1079) rotate(285.5)"/><text class="lab r e" x="262" y="803">rrnL</text></g>
<g id="rrnS"><circle class="arc red" r="893" pathLength="360" stroke-dasharray="16.9 400" stroke-dashoffset="-316.8" transform="translate(1212 1079) rotate(-90)"/><use href="#hr" class="rf" transform="translate(1212 1079) rotate(316.8)"/><text class="lab r e" x="606" y="292">rrnS</text></g>
</g>
<g id="trnas">
<g id="trnI"><use href="#tf" class="trna" transform="translate(1212 1079) rotate(-0.74)"/><text class="lab t" x="1115" y="75">trnI(gat)</text></g>
<g id="trnQ"><use href="#tr" class="trna" transform="translate(1212 1079) rotate(0.8)"/><text class="lab t" x="1319" y="75">trnQ(ttg)</text></g>
<g id="trnM"><use href="#tf" class="trna" transform="translate(1212 1079) rotate(2.15)"/><text class="lab t" x="1448" y="108">trnM(cat)</text></g>
<g id="trnW"><use href="#tf" class="trna" transform="translate(1212 1079) rotate(26.7)"/><text class="lab t" x="1565" y="145">trnW(tca)</text></g>
<g id="trnC"><use href="#tr" class="trna" transform="translate(1212 1079) rotate(29.1)"/><text class="lab t" x="1649" y="182">trnC(gca)</text></g>
<g id="trnY"><use href="#tr" class="trna" transform="translate(1212 1079) rotate(30.6)"/><text class="lab t" x="1718" y="218">trnY(gta)</text></g>
<g id="trnL2"><use href="#tf" class="trna" transform="translate(1212 1079) rotate(66.8)"/><text class="lab t" x="2130" y="700">trnL2(taa)</text></g>
<g id="trnK"><use href="#tf" class="trna" transform="translate(1212 1079) rotate(84.2)"/><text class="lab t" x="2202" y="983">trnK(ctt)</text></g>
<g id="trnD"><use href="#tf" class="trna" transform="translate(1212 1079) rotate(86)"/><text class="lab t" x="2205" y="1020">trnD(gtc)</text></g>
<g id="trnG"><use href="#tf" class="trna" transform="translate(1212 1079) rotate(124.2)"/><text class="lab t" x="2030" y="1681">trnG(tcc)</text></g>
<g id="trnA"><use href="#tf" class="trna" transform="translate(1212 1079) rotate(133.6)"/><text class="lab t" x="1975" y="1754">trnA(tgc)</text></g>
<g id="trnR"><use href="#tf" class="trna" transform="translate(1212 1079) rotate(135)"/><text class="lab t" x="1942" y="1788">trnR(tcg)</text></g>
<g id="trnN"><use href="#tf" class="trna" transform="translate(1212 1079) rotate(136.4)"/><text class="lab t" x="1908" y="1827">trnN(gtt)</text></g>
<g id="trnS1"><use href="#tf" class="trna" transform="translate(1212 1079) rotate(137.7)"/><text class="lab t" x="1868" y="1862">trnS1(tct)</text></g>
<g id="trnE"><use href="#tf" class="trna" transform="translate(1212 1079) rotate(139.2)"/><text class="lab t" x="1823" y="1897">trnE(ttc)</text></g>
<g id="trnF"><use href="#tr" class="trna" transform="translate(1212 1079) rotate(141.1)"/><text class="lab t" x="1773" y="1933">trnF(gaa)</text></g>
<g id="trnT"><use href="#tf" class="trna" transform="translate(1212 1079) rotate(219.8)"/><text class="lab t e" x="603" y="1900">trnT(tgt)</text></g>
<g id="trnP"><use href="#tr" class="trna" transform="translate(1212 1079) rotate(221.7)"/><text class="lab t e" x="558" y="1862">trnP(tgg)</text></g>
<g id="trnS2"><use href="#tf" class="trna" transform="translate(1212 1079) rotate(260.4)"/><text class="lab t e" x="230" y="1233">trnS2(tga)</text></g>
<g id="trnL1"><use href="#tr" class="trna" transform="translate(1212 1079) rotate(284.2)"/><text class="lab t e" x="250" y="840">trnL1(tag)</text></g>
<g id="trnV"><use href="#tr" class="trna" transform="translate(1212 1079) rotate(315.3)"/><text class="lab t e" x="522" y="363">trnV(tac)</text></g>
</g>
<g id="title" fill="#5e5e5e" font-size="34" text-anchor="middle">
<text x="1213" y="1066">Carpophilus dimidiatus</text>
<text x="1213" y="1116">15,717 bp</text>
</g>
</svg>
